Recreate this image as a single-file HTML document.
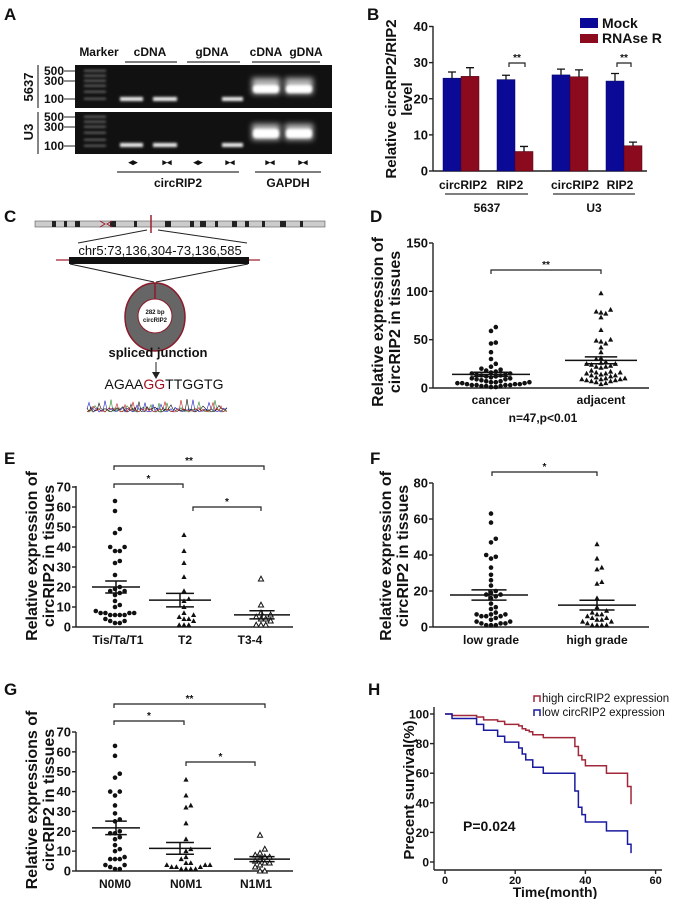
<!DOCTYPE html>
<html><head><meta charset="utf-8"><style>
html,body{margin:0;padding:0;background:#fff;}
svg{display:block;font-family:"Liberation Sans",Arial,sans-serif;}
text{font-weight:bold;fill:#111;}
</style></head><body>
<svg id="fig" width="675" height="899" viewBox="0 0 675 899" xmlns="http://www.w3.org/2000/svg">
<defs>
<filter id="blur1" x="-50%" y="-50%" width="200%" height="200%"><feGaussianBlur stdDeviation="1.2"/></filter>
<filter id="blur2" x="-50%" y="-50%" width="200%" height="200%"><feGaussianBlur stdDeviation="3"/></filter>
</defs>
<text x="4" y="20" font-size="17">A</text>
<text x="367" y="20" font-size="17">B</text>
<text x="4" y="222" font-size="17">C</text>
<text x="370" y="222" font-size="17">D</text>
<text x="4" y="464" font-size="17">E</text>
<text x="370" y="464" font-size="17">F</text>
<text x="4" y="695" font-size="17">G</text>
<text x="368" y="695" font-size="17">H</text>

<g font-size="12">
<text x="99" y="56" text-anchor="middle">Marker</text>
<text x="150" y="56" text-anchor="middle">cDNA</text>
<text x="212" y="56" text-anchor="middle">gDNA</text>
<text x="266" y="56" text-anchor="middle">cDNA</text>
<text x="306" y="56" text-anchor="middle">gDNA</text>
<g stroke="#333" stroke-width="1.2">
<line x1="125" y1="62" x2="177" y2="62"/><line x1="187" y1="62" x2="240" y2="62"/><line x1="252" y1="62" x2="320" y2="62"/>
<line x1="117" y1="172" x2="239" y2="172"/><line x1="255" y1="172" x2="321" y2="172"/>
<line x1="38" y1="65" x2="38" y2="108"/><line x1="38" y1="112" x2="38" y2="154"/>
</g>
<rect x="75" y="65" width="257" height="43" fill="#111"/>
<rect x="75" y="112" width="257" height="42" fill="#111"/>
<g fill="#ddd" filter="url(#blur1)" opacity="0.55">
<rect x="84" y="70" width="22" height="1.5"/><rect x="84" y="75" width="22" height="1.5"/><rect x="84" y="80" width="22" height="1.5"/><rect x="84" y="85" width="22" height="1.5"/><rect x="84" y="91" width="22" height="1.5"/><rect x="84" y="98" width="22" height="1.5"/>
<rect x="84" y="116" width="22" height="1.5"/><rect x="84" y="121" width="22" height="1.5"/><rect x="84" y="126" width="22" height="1.5"/><rect x="84" y="132" width="22" height="1.5"/><rect x="84" y="139" width="22" height="1.5"/><rect x="84" y="145" width="22" height="1.5"/>
</g>
<g fill="#eee" filter="url(#blur1)">
<rect x="120" y="97" width="23" height="4"/><rect x="153" y="97" width="24" height="4"/><rect x="222" y="97" width="21" height="4"/>
<rect x="120" y="143" width="23" height="4"/><rect x="153" y="143" width="24" height="4"/><rect x="222" y="143" width="21" height="4"/>
</g>
<g fill="#fff">
<rect x="252" y="78" width="28" height="16" filter="url(#blur2)" opacity="0.7"/><rect x="285" y="78" width="28" height="16" filter="url(#blur2)" opacity="0.7"/>
<rect x="253" y="85" width="26" height="8" rx="3" filter="url(#blur1)"/><rect x="286" y="85" width="26" height="8" rx="3" filter="url(#blur1)"/>
<rect x="252" y="124" width="28" height="16" filter="url(#blur2)" opacity="0.7"/><rect x="285" y="124" width="28" height="16" filter="url(#blur2)" opacity="0.7"/>
<rect x="253" y="129" width="26" height="9" rx="3" filter="url(#blur1)"/><rect x="286" y="129" width="26" height="9" rx="3" filter="url(#blur1)"/>
</g>
<g font-size="12" text-anchor="end">
<text x="64" y="75">500</text><text x="64" y="85">300</text><text x="64" y="103">100</text>
<text x="64" y="121">500</text><text x="64" y="131">300</text><text x="64" y="150">100</text>
</g>
<g stroke="#222" stroke-width="1"><line x1="64" y1="71" x2="75" y2="71"/><line x1="64" y1="81" x2="75" y2="81"/><line x1="64" y1="99" x2="75" y2="99"/><line x1="64" y1="117" x2="75" y2="117"/><line x1="64" y1="127" x2="75" y2="127"/><line x1="64" y1="146" x2="75" y2="146"/></g>
<text transform="translate(33,87) rotate(-90)" text-anchor="middle" font-size="13">5637</text>
<text transform="translate(33,132) rotate(-90)" text-anchor="middle" font-size="13">U3</text>
<g font-size="9" text-anchor="middle">
<text x="133" y="165">◂▸</text><text x="167" y="165">▸◂</text><text x="198" y="165">◂▸</text><text x="230" y="165">▸◂</text><text x="270" y="165">▸◂</text><text x="303" y="165">▸◂</text>
</g>
<text x="178" y="187" text-anchor="middle" font-size="12">circRIP2</text>
<text x="288" y="187" text-anchor="middle" font-size="12">GAPDH</text>
</g>

<g>
<rect x="35" y="221" width="290" height="6" fill="#ccc" stroke="#555" stroke-width="0.6"/>
<g fill="#222"><rect x="52" y="221" width="4" height="6"/><rect x="64" y="221" width="3" height="6"/><rect x="75" y="221" width="5" height="6"/><rect x="110" y="221" width="6" height="6"/><rect x="134" y="221" width="3" height="6"/><rect x="165" y="221" width="6" height="6"/><rect x="190" y="221" width="4" height="6"/><rect x="200" y="221" width="6" height="6"/><rect x="215" y="221" width="3" height="6"/><rect x="232" y="221" width="5" height="6"/><rect x="245" y="221" width="4" height="6"/><rect x="262" y="221" width="3" height="6"/><rect x="280" y="221" width="6" height="6"/><rect x="300" y="221" width="3" height="6"/></g>
<path d="M100 221 L105 224 L100 227 M112 221 L107 224 L112 227" fill="none" stroke="#a02030" stroke-width="1"/>
<line x1="151" y1="215" x2="151" y2="233" stroke="#a02030" stroke-width="1.5"/>
<g stroke="#222" stroke-width="1"><line x1="147" y1="230" x2="78" y2="243"/><line x1="158" y1="230" x2="247" y2="243"/>
<line x1="70" y1="264" x2="154" y2="282"/><line x1="248" y1="264" x2="156" y2="282"/><line x1="156" y1="362" x2="156" y2="376"/></g>
<path d="M152 372 L156 379 L160 372 Z" fill="#222"/>
<text x="160" y="255" text-anchor="middle" font-size="13" style="font-weight:normal">chr5:73,136,304-73,136,585</text>
<line x1="56" y1="260" x2="260" y2="260" stroke="#a02030" stroke-width="1.2"/>
<rect x="69" y="257" width="180" height="7" fill="#111"/>
<ellipse cx="155" cy="317" rx="30" ry="34" fill="#666" stroke="#8b1a2a" stroke-width="1.5"/>
<ellipse cx="155" cy="316" rx="17" ry="17" fill="#fff" stroke="#8b1a2a" stroke-width="1"/>
<line x1="155" y1="283" x2="155" y2="299" stroke="#8b1a2a" stroke-width="1.5"/>
<text x="155" y="314" text-anchor="middle" font-size="6">282 bp</text>
<text x="155" y="322" text-anchor="middle" font-size="6">circRIP2</text>
<text x="158" y="357" text-anchor="middle" font-size="13">spliced junction</text>
<text x="164" y="389" text-anchor="middle" font-size="14" style="font-weight:normal">AGAA<tspan fill="#a01020">GG</tspan>TTGGTG</text>
<g id="chromato"></g>
</g>

<g id="charts"></g>
</svg>
<script>
const NS='http://www.w3.org/2000/svg';
const root=document.getElementById('charts');
function mk(tag,attrs,parent){const e=document.createElementNS(NS,tag);for(const k in attrs)e.setAttribute(k,attrs[k]);(parent||root).appendChild(e);return e;}
function txt(x,y,s,attrs,parent){const e=mk('text',Object.assign({x:x,y:y},attrs||{}),parent);e.textContent=s;return e;}

// Panel B
const bCategories=['circRIP2','RIP2','circRIP2','RIP2'];
const bMock=[25.7,25.3,26.6,24.9];
const bMockErr=[1.7,1.2,1.6,2.1];
const bRnase=[26.2,5.4,26.1,7.0];
const bRnaseErr=[2.4,1.4,1.9,1.0];
const bTicks=[0,10,20,30,40];
// Panel D
const dCancer=[63,59,47,46,37,30,25,22,20,19,18,17,16,15,15,14,14,13,13,12,12,11,10,10,9,9,8,7,7,6,6,6,5,5,5,4,4,4,3,3,3,3,2,2,2,1,1];
const dAdjacent=[98,81,79,78,77,73,60,50,49,48,46,42,37,31,30,27,26,25,25,24,23,22,22,21,18,17,16,16,15,15,14,13,13,12,11,10,10,9,9,9,8,8,7,7,6,5,4];
const dTicks=[0,50,100,150];
// Panel E
const eTis=[63,58,49,47,40,40,38,38,33,32,26,20,19,18,18,17,16,13,11,10,8,7,7,7,6,6,6,4,3,3,2,2,6,7];
const eT2=[46,38,32,25,18,14,13,10,7,5,4,6,3,4,1,1,1];
const eT34=[24,11,7,6,4,4,5,3,1,1,1];
const eTicks=[0,10,20,30,40,50,60,70];
// Panel F
const fLow=[63,58,49,47,40,39,38,33,29,26,23,20,19,18,18,17,16,13,11,10,8,7,7,7,6,6,6,5,4,3,3,2,2,2,1,1,1];
const fHigh=[46,38,33,32,25,24,16,11,9,8,7,7,6,5,5,4,4,3,3,2,1,1,1,1];
const fTicks=[0,20,40,60,80];
// Panel G
const gN0M0=[63,58,49,47,40,40,38,33,29,26,25,20,19,19,17,16,13,11,10,7,6,6,6,3,3,2,1,1];
const gN0M1=[46,38,33,32,24,16,11,10,7,6,4,4,3,3,3,2,2,2,1,1,1,1];
const gN1M1=[18,11,9,8,7,7,6,5,4,4,3,2,0,0];
const gTicks=[0,10,20,30,40,50,60,70];
// Panel H
const hHighTime=[0,2,9,11,15,17,21,22,23,24,25,28,37,38,39,40,46,52,53];
const hHighSurv=[100,99,98,96,95,93,92,90,89,88,86,84,78,72,69,65,60,51,39];
const hLowTime=[0,2,9,11,15,17,21,22,23,25,28,37,38,39,40,46,52,53];
const hLowSurv=[100,97,93,89,85,81,77,73,69,64,60,48,37,32,27,21,12,6];
const hXTicks=[0,20,40,60];
const hYTicks=[0,20,40,60,80,100];

function yAxis(x,scale,ticks,top,bottom,name){
  const a=mk('line',{x1:x,y1:top,x2:x,y2:bottom,stroke:'#222','stroke-width':1.4});
  
  
  ticks.forEach(t=>{
    const y=scale(t);
    mk('line',{x1:x-4,y1:y,x2:x,y2:y,stroke:'#222','stroke-width':1.4});
    const l=txt(x-5,y+4.5,String(t),{'text-anchor':'end','font-size':13});
    
    
  });
}
function yTitle(x,y,lines,name,size){
  lines.forEach((s,i)=>{
    const t=txt(0,0,s,{transform:`translate(${x+i*(size+1)},${y}) rotate(-90)`,'text-anchor':'middle','font-size':size});
    
    
  });
}
function xAxis(x1,x2,y,name){
  const a=mk('line',{x1:x1,y1:y,x2:x2,y2:y,stroke:'#222','stroke-width':1.4});
  
  
}
function bracket(x1,x2,y,label,name){
  const p=mk('path',{d:`M${x1} ${y+4} V${y} H${x2} V${y+4}`,fill:'none',stroke:'#222','stroke-width':1.2});
  
  
  const t=txt((x1+x2)/2,y-2,label,{'text-anchor':'middle','font-size':10});
  
  
}
function stats(v){const n=v.length;const m=v.reduce((a,b)=>a+b,0)/n;const sd=Math.sqrt(v.reduce((a,b)=>a+(b-m)*(b-m),0)/(n-1));return [m,sd/Math.sqrt(n)];}
function meanSem(vals,cx,half,scale,name){
  const [m,se]=stats(vals);
  const g=mk('g',{stroke:'#111','stroke-width':1.5});
  
  
  mk('line',{x1:cx-half,y1:scale(m),x2:cx+half,y2:scale(m)},g);
  mk('line',{x1:cx-half*0.45,y1:scale(m+se),x2:cx+half*0.45,y2:scale(m+se)},g);
  mk('line',{x1:cx-half*0.45,y1:scale(m-se),x2:cx+half*0.45,y2:scale(m-se)},g);
  mk('line',{x1:cx,y1:scale(m+se),x2:cx,y2:scale(m-se)},g);
}
function dots(vals,cx,scale,shape,name){
  const placed=[];const r=2.3;const d=4.8;
  const sorted=vals.slice().sort((a,b)=>a-b);
  sorted.forEach(v=>{
    const y=scale(v);let x=cx;
    for(let k=0;k<40;k++){
      const off=(k===0?0:(k%2?1:-1)*Math.ceil(k/2)*d);
      const tx=cx+off;
      if(placed.every(p=>Math.hypot(p[0]-tx,p[1]-y)>=d-0.3)){x=tx;break;}
    }
    placed.push([x,y]);
    let e;
    if(shape==='circle') e=mk('circle',{cx:x,cy:y,r:r,fill:'#111'});
    else if(shape==='tri') e=mk('path',{d:`M${x} ${y-2.8} L${x+2.6} ${y+2} L${x-2.6} ${y+2} Z`,fill:'#111'});
    else e=mk('path',{d:`M${x} ${y-2.8} L${x+2.6} ${y+2} L${x-2.6} ${y+2} Z`,fill:'#fff',stroke:'#111','stroke-width':1});
    
    
  });
}
function xLabel(x,y,s,name){const t=txt(x,y,s,{'text-anchor':'middle','font-size':12});
  
  }

// Panel B
const yB=v=>171-v*3.6125;
yAxis(433,yB,bTicks,26,171,'b');
xAxis(433,647,171,'b');
yTitle(396,99,['Relative circRIP2/RIP2','level'],'b',15);
const bMockX=[443,497,552,606];
const bw=18;
bCategories.forEach((c,i)=>{
  const x=bMockX[i];
  const m=mk('rect',{x:x,y:yB(bMock[i]),width:bw,height:yB(0)-yB(bMock[i]),fill:'#0a0a96',stroke:'#000060','stroke-width':0.5});
  
  
  const r=mk('rect',{x:x+bw,y:yB(bRnase[i]),width:bw,height:yB(0)-yB(bRnase[i]),fill:'#8b0a1e',stroke:'#500010','stroke-width':0.5});
  
  
  [[x+bw/2,bMock[i],bMockErr[i]],[x+bw*1.5,bRnase[i],bRnaseErr[i]]].forEach(q=>{
    const e=mk('path',{d:`M${q[0]} ${yB(q[1])} V${yB(q[1]+q[2])} M${q[0]-4} ${yB(q[1]+q[2])} H${q[0]+4}`,stroke:'#111','stroke-width':1.3,fill:'none'});
    
    
  });
});
[463,510,575,620].forEach((x,i)=>xLabel(x,189,bCategories[i],'b'));
mk('line',{x1:445,y1:194,x2:528,y2:194,stroke:'#333','stroke-width':1.2});
mk('line',{x1:553,y1:194,x2:635,y2:194,stroke:'#333','stroke-width':1.2});
const c1=txt(487,212,'5637',{'text-anchor':'middle','font-size':12});


const c2=txt(594,212,'U3',{'text-anchor':'middle','font-size':12});


bracket(509,525,63,'**','b-rip2-5637');
bracket(617,631,63,'**','b-rip2-u3');
const lm=mk('rect',{x:580,y:18,width:18,height:10,fill:'#0a0a96'});


const lmt=txt(602,28,'Mock',{'font-size':14});


const lr=mk('rect',{x:580,y:34,width:18,height:9,fill:'#8b0a1e'});


const lrt=txt(602,43,'RNAse R',{'font-size':14});



// Panel D
const yD=v=>388-v*(145/150);
yAxis(433,yD,dTicks,243,388,'d');
xAxis(433,649,388,'d');
yTitle(383,322,['Relative expression of','circRIP2 in tissues'],'d',16);
dots(dCancer,491,yD,'circle','d-cancer');
dots(dAdjacent,601,yD,'tri','d-adjacent');
meanSem(dCancer,491,39,yD,'d-cancer');
meanSem(dAdjacent,601,36,yD,'d-adjacent');
xLabel(491,404,'cancer','d');xLabel(601,404,'adjacent','d');
const dn=txt(543,422,'n=47,p<0.01',{'text-anchor':'middle','font-size':12});


bracket(491,601,270,'**','d');

// Panel E
const yE=v=>627-v*2.0;
yAxis(76,yE,eTicks,486,627,'e');
xAxis(76,293,627,'e');
yTitle(37,556,['Relative expression of','circRIP2 in tissues'],'e',16);
dots(eTis,115,yE,'circle','e-tis');
dots(eT2,184,yE,'tri','e-t2');
dots(eT34,261,yE,'open','e-t34');
meanSem(eTis,116,24,yE,'e-tis');
meanSem(eT2,180,31,yE,'e-t2');
meanSem(eT34,262,28,yE,'e-t34');
xLabel(118,644,'Tis/Ta/T1','e');xLabel(185,644,'T2','e');xLabel(250,644,'T3-4','e');
bracket(114,264,466,'**','e-1-3');
bracket(114,183,484,'*','e-1-2');
bracket(193,261,507,'*','e-2-3');

// Panel F
const yF=v=>627-v*1.8;
yAxis(433,yF,fTicks,483,627,'f');
xAxis(433,649,627,'f');
yTitle(391,556,['Relative expression of','circRIP2 in tissues'],'f',16);
dots(fLow,491,yF,'circle','f-low');
dots(fHigh,597,yF,'tri','f-high');
meanSem(fLow,489,39,yF,'f-low');
meanSem(fHigh,597,39,yF,'f-high');
xLabel(491,644,'low grade','f');xLabel(597,644,'high grade','f');
bracket(492,597,472,'*','f');

// Panel G
const yG=v=>871-v*(139/70);
yAxis(76,yG,gTicks,732,871,'g');
xAxis(76,293,871,'g');
yTitle(37,800,['Relative expressions of','circRIP2 in tissues'],'g',16);
dots(gN0M0,115,yG,'circle','g-n0m0');
dots(gN0M1,186,yG,'tri','g-n0m1');
dots(gN1M1,260,yG,'open','g-n1m1');
meanSem(gN0M0,116,24,yG,'g-n0m0');
meanSem(gN0M1,180,31,yG,'g-n0m1');
meanSem(gN1M1,262,28,yG,'g-n1m1');
xLabel(115,888,'N0M0','g');xLabel(186,888,'N0M1','g');xLabel(256,888,'N1M1','g');
bracket(114,265,704,'**','g-1-3');
bracket(114,184,721,'*','g-1-2');
bracket(186,255,762,'*','g-2-3');

// Panel H
const xH=t=>445+t*3.51;
const yH=s=>862-s*1.48;
const ha=mk('line',{x1:434,y1:707,x2:434,y2:870,stroke:'#222','stroke-width':1.4});


hYTicks.forEach(t=>{mk('line',{x1:430,y1:yH(t),x2:434,y2:yH(t),stroke:'#222','stroke-width':1.4});
  const l=txt(429,yH(t)+4.5,String(t),{'text-anchor':'end','font-size':12});
  
  });
xAxis(434,662,870,'h');
hXTicks.forEach(t=>{mk('line',{x1:xH(t),y1:870,x2:xH(t),y2:874,stroke:'#222','stroke-width':1.4});
  const l=txt(xH(t),884,String(t),{'text-anchor':'middle','font-size':11});
  
  });
const hx=txt(555,897,'Time(month)',{'text-anchor':'middle','font-size':14});


yTitle(414,790,['Precent survival(%)'],'h',15);
function km(times,surv,color,name){
  let d=`M${xH(times[0])} ${yH(surv[0])}`;
  for(let i=1;i<times.length;i++){d+=` H${xH(times[i])} V${yH(surv[i])}`;}
  const p=mk('path',{d:d,fill:'none',stroke:color,'stroke-width':1.5});
  
  
}
km(hHighTime,hHighSurv,'#a0283a','h-high-expression-curve');
km(hLowTime,hLowSurv,'#1a1aa0','h-low-expression-curve');
const hp=txt(463,831,'P=0.024',{'font-size':14});


const li1=mk('path',{d:'M534 702 V696 H540 V702',fill:'none',stroke:'#a0283a','stroke-width':1.5});


const lt1=txt(542,702,'high circRIP2 expression',{'font-size':11.5,style:'font-weight:normal'});


const li2=mk('path',{d:'M534 716 V710 H540 V716',fill:'none',stroke:'#1a1aa0','stroke-width':1.5});


const lt2=txt(542,716,'low circRIP2 expression',{'font-size':11.5,style:'font-weight:normal'});



// decorative chromatogram
const cg=document.getElementById('chromato');
['#2a8a2a','#2020c0','#111','#c02020'].forEach((col,j)=>{
  let d='';for(let i=0;i<=70;i++){const x=87+i*2;const h=Math.abs(Math.sin(i*1.7+j*2.3))*Math.abs(Math.sin(i*0.37+j))*13*(i%4===j?1:0.35);d+=(i?'L':'M')+x+' '+(412-h).toFixed(1)+' ';}
  mk('path',{d:d,fill:'none',stroke:col,'stroke-width':0.6},cg);
});
</script>
</body></html>
